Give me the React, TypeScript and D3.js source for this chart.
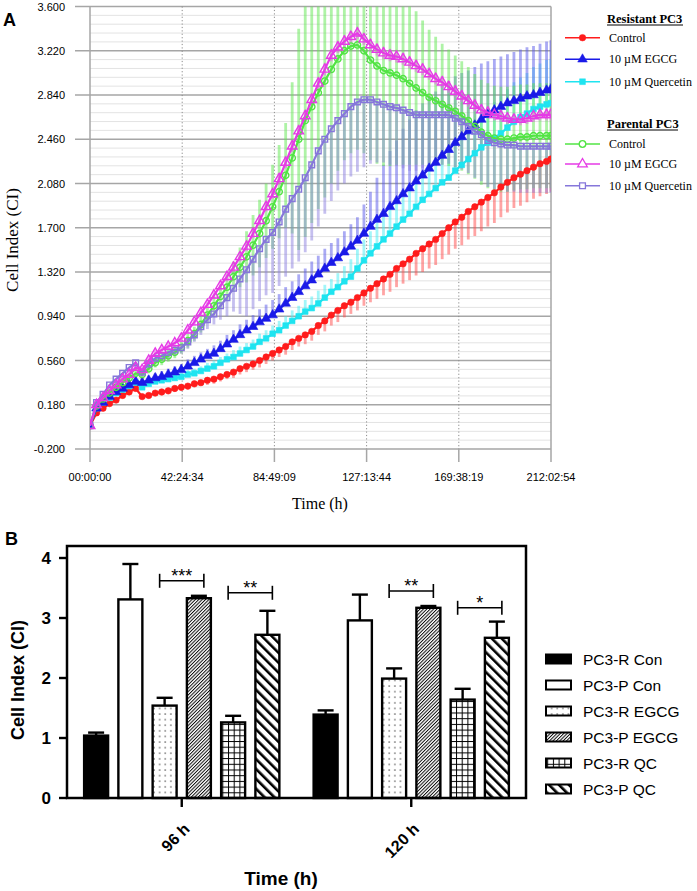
import React from "react";
import * as d3 from "d3";

// ---------------- Panel A data (hours, Cell Index) ----------------
const TIMES = [
  0, 3, 6, 9, 12, 15, 18, 21, 24, 27, 30, 33,
  36, 39, 42, 45, 48, 51, 54, 57, 60, 63, 66, 69,
  72, 75, 78, 81, 84, 87, 90, 93, 96, 99, 102, 105,
  108, 111, 114, 117, 120, 123, 126, 129, 132, 135, 138, 141,
  144, 147, 150, 153, 156, 159, 162, 165, 168, 171, 174, 177,
  180, 183, 186, 189, 192, 195, 198, 201, 204, 207, 210, 212,
];

const RES_CONTROL = [
  0.0, 0.11, 0.15, 0.19, 0.22, 0.26, 0.29, 0.32, 0.25, 0.26, 0.28, 0.29,
  0.3, 0.32, 0.33, 0.34, 0.36, 0.37, 0.39, 0.4, 0.42, 0.44, 0.46, 0.49,
  0.51, 0.53, 0.56, 0.59, 0.62, 0.65, 0.68, 0.72, 0.75, 0.78, 0.81, 0.86,
  0.9, 0.95, 0.99, 1.03, 1.06, 1.1, 1.14, 1.18, 1.22, 1.26, 1.3, 1.35,
  1.39, 1.43, 1.48, 1.52, 1.56, 1.6, 1.65, 1.7, 1.75, 1.79, 1.84, 1.88,
  1.92, 1.96, 2.0, 2.05, 2.09, 2.13, 2.16, 2.19, 2.22, 2.25, 2.27, 2.29,
];
const RES_CONTROL_SD = [
  0.0, 0.02, 0.02, 0.02, 0.02, 0.02, 0.02, 0.02, 0.02, 0.02, 0.02, 0.03,
  0.03, 0.03, 0.03, 0.03, 0.03, 0.03, 0.04, 0.04, 0.04, 0.04, 0.05, 0.05,
  0.05, 0.05, 0.06, 0.06, 0.06, 0.06, 0.07, 0.07, 0.07, 0.08, 0.08, 0.08,
  0.09, 0.09, 0.1, 0.1, 0.1, 0.11, 0.11, 0.12, 0.13, 0.14, 0.15, 0.16,
  0.17, 0.18, 0.19, 0.2, 0.21, 0.22, 0.22, 0.23, 0.23, 0.24, 0.24, 0.25,
  0.25, 0.25, 0.26, 0.26, 0.26, 0.26, 0.27, 0.27, 0.27, 0.28, 0.28, 0.28,
];

const RES_EGCG = [
  0.0, 0.15, 0.2, 0.25, 0.29, 0.32, 0.35, 0.38, 0.37, 0.39, 0.41, 0.42,
  0.44, 0.46, 0.48, 0.51, 0.54, 0.57, 0.6, 0.62, 0.66, 0.7, 0.74, 0.78,
  0.82, 0.85, 0.89, 0.92, 0.95, 1.0, 1.05, 1.1, 1.15, 1.2, 1.25, 1.3,
  1.35, 1.4, 1.44, 1.49, 1.54, 1.59, 1.65, 1.71, 1.77, 1.82, 1.88, 1.93,
  1.99, 2.04, 2.1, 2.15, 2.21, 2.26, 2.32, 2.37, 2.43, 2.48, 2.53, 2.58,
  2.63, 2.67, 2.71, 2.74, 2.77, 2.79, 2.81, 2.83, 2.84, 2.86, 2.88, 2.89,
];
const RES_EGCG_SD = [
  0.0, 0.03, 0.03, 0.03, 0.03, 0.03, 0.04, 0.04, 0.04, 0.04, 0.04, 0.05,
  0.05, 0.05, 0.05, 0.06, 0.06, 0.06, 0.06, 0.07, 0.07, 0.08, 0.08, 0.09,
  0.09, 0.1, 0.11, 0.12, 0.13, 0.13, 0.14, 0.14, 0.15, 0.15, 0.16, 0.16,
  0.17, 0.17, 0.17, 0.18, 0.19, 0.2, 0.25, 0.3, 0.36, 0.42, 0.48, 0.52,
  0.56, 0.59, 0.61, 0.62, 0.62, 0.61, 0.6, 0.59, 0.57, 0.55, 0.52, 0.5,
  0.48, 0.46, 0.44, 0.43, 0.42, 0.42, 0.42, 0.42, 0.42, 0.42, 0.42, 0.42,
];

const RES_QC = [
  0.0, 0.15, 0.2, 0.24, 0.28, 0.31, 0.34, 0.37, 0.33, 0.36, 0.38, 0.39,
  0.4, 0.41, 0.42, 0.44, 0.45, 0.47, 0.49, 0.51, 0.54, 0.57, 0.59, 0.62,
  0.65, 0.68, 0.72, 0.75, 0.79, 0.82, 0.86, 0.9, 0.94, 0.98, 1.01, 1.05,
  1.1, 1.15, 1.19, 1.24, 1.28, 1.35, 1.42, 1.48, 1.54, 1.6, 1.65, 1.71,
  1.77, 1.82, 1.88, 1.94, 1.99, 2.04, 2.09, 2.13, 2.19, 2.24, 2.29, 2.34,
  2.39, 2.43, 2.47, 2.51, 2.56, 2.61, 2.65, 2.68, 2.72, 2.74, 2.76, 2.77,
];
const RES_QC_SD = [
  0.0, 0.02, 0.02, 0.03, 0.03, 0.03, 0.03, 0.03, 0.03, 0.03, 0.03, 0.03,
  0.03, 0.03, 0.04, 0.04, 0.04, 0.04, 0.05, 0.05, 0.05, 0.05, 0.06, 0.06,
  0.06, 0.06, 0.07, 0.07, 0.07, 0.08, 0.08, 0.09, 0.09, 0.1, 0.1, 0.11,
  0.11, 0.11, 0.12, 0.13, 0.15, 0.17, 0.18, 0.19, 0.2, 0.21, 0.22, 0.22,
  0.23, 0.23, 0.24, 0.24, 0.25, 0.25, 0.26, 0.26, 0.27, 0.27, 0.28, 0.28,
  0.29, 0.3, 0.31, 0.32, 0.33, 0.34, 0.34, 0.35, 0.36, 0.37, 0.38, 0.38,
];

const PAR_CONTROL = [
  0.0, 0.17, 0.23, 0.28, 0.33, 0.37, 0.41, 0.45, 0.44, 0.49, 0.54, 0.57,
  0.6, 0.63, 0.67, 0.73, 0.79, 0.87, 0.95, 1.03, 1.11, 1.19, 1.28, 1.36,
  1.45, 1.55, 1.65, 1.76, 1.88, 2.01, 2.15, 2.3, 2.46, 2.62, 2.74, 2.86,
  2.96, 3.06, 3.15, 3.22, 3.26, 3.27, 3.22, 3.14, 3.09, 3.05, 3.03, 3.01,
  2.98, 2.94, 2.9, 2.86, 2.82, 2.79, 2.76, 2.73, 2.7, 2.66, 2.62, 2.57,
  2.52, 2.49, 2.47, 2.46, 2.46, 2.47, 2.48, 2.48, 2.49, 2.49, 2.49, 2.49,
];
const PAR_CONTROL_SD = [
  0.0, 0.03, 0.03, 0.03, 0.03, 0.04, 0.04, 0.04, 0.04, 0.04, 0.04, 0.05,
  0.05, 0.05, 0.05, 0.06, 0.06, 0.07, 0.07, 0.08, 0.1, 0.11, 0.13, 0.17,
  0.22, 0.26, 0.29, 0.32, 0.36, 0.4, 0.45, 0.65, 0.95, 1.0, 1.0, 1.0,
  1.0, 0.98, 0.96, 0.94, 0.92, 0.9, 0.88, 0.86, 0.84, 0.82, 0.8, 0.77,
  0.74, 0.7, 0.66, 0.62, 0.58, 0.55, 0.52, 0.5, 0.48, 0.47, 0.46, 0.45,
  0.45, 0.45, 0.45, 0.45, 0.45, 0.45, 0.45, 0.45, 0.45, 0.45, 0.45, 0.45,
];

const PAR_EGCG = [
  0.0, 0.18, 0.24, 0.3, 0.35, 0.4, 0.44, 0.5, 0.48, 0.56, 0.62, 0.65,
  0.68, 0.71, 0.75, 0.82, 0.89, 0.97, 1.04, 1.12, 1.2, 1.28, 1.36, 1.45,
  1.54, 1.65, 1.76, 1.88, 1.99, 2.12, 2.26, 2.4, 2.53, 2.66, 2.8, 2.94,
  3.06, 3.18, 3.25, 3.3, 3.34, 3.37, 3.32, 3.27, 3.23, 3.2, 3.18, 3.17,
  3.15, 3.12, 3.09, 3.06, 3.02, 2.98, 2.95, 2.91, 2.87, 2.83, 2.79, 2.75,
  2.71, 2.69, 2.67, 2.66, 2.64, 2.63, 2.63, 2.64, 2.66, 2.67, 2.67, 2.67,
];
const PAR_EGCG_SD = [
  0.0, 0.02, 0.02, 0.02, 0.02, 0.02, 0.03, 0.03, 0.03, 0.03, 0.03, 0.03,
  0.03, 0.03, 0.03, 0.03, 0.03, 0.03, 0.03, 0.03, 0.04, 0.04, 0.04, 0.04,
  0.04, 0.04, 0.04, 0.04, 0.04, 0.05, 0.05, 0.05, 0.05, 0.05, 0.05, 0.05,
  0.05, 0.05, 0.05, 0.05, 0.05, 0.05, 0.05, 0.05, 0.05, 0.05, 0.05, 0.05,
  0.05, 0.05, 0.05, 0.05, 0.05, 0.05, 0.05, 0.05, 0.05, 0.05, 0.05, 0.05,
  0.05, 0.05, 0.05, 0.05, 0.05, 0.05, 0.05, 0.05, 0.05, 0.05, 0.05, 0.05,
];

const PAR_QC = [
  0.0, 0.2, 0.27, 0.35, 0.4, 0.45, 0.5, 0.54, 0.46, 0.53, 0.58, 0.6,
  0.63, 0.65, 0.67, 0.72, 0.78, 0.85, 0.91, 0.96, 1.03, 1.1, 1.18, 1.26,
  1.34, 1.43, 1.52, 1.6, 1.66, 1.75, 1.86, 1.95, 2.03, 2.13, 2.24, 2.36,
  2.46, 2.55, 2.62, 2.68, 2.74, 2.78, 2.8, 2.8, 2.78, 2.76, 2.74, 2.73,
  2.71, 2.69, 2.67, 2.67, 2.67, 2.67, 2.67, 2.67, 2.64, 2.61, 2.57, 2.53,
  2.5, 2.45, 2.43, 2.42, 2.41, 2.41, 2.4, 2.4, 2.4, 2.4, 2.4, 2.4,
];
const PAR_QC_SD = [
  0.0, 0.03, 0.03, 0.03, 0.04, 0.04, 0.04, 0.04, 0.04, 0.04, 0.04, 0.04,
  0.05, 0.05, 0.05, 0.06, 0.06, 0.07, 0.08, 0.09, 0.12, 0.16, 0.2, 0.3,
  0.4, 0.43, 0.45, 0.48, 0.52, 0.55, 0.58, 0.6, 0.62, 0.64, 0.65, 0.65,
  0.64, 0.62, 0.6, 0.6, 0.6, 0.6, 0.58, 0.55, 0.52, 0.5, 0.5, 0.5,
  0.5, 0.5, 0.48, 0.46, 0.45, 0.44, 0.43, 0.42, 0.42, 0.41, 0.4, 0.4,
  0.4, 0.4, 0.4, 0.4, 0.4, 0.4, 0.4, 0.4, 0.4, 0.4, 0.4, 0.4,
];

const TIME_TICK_LABELS = ["00:00:00", "42:24:34", "84:49:09", "127:13:44", "169:38:19", "212:02:54"];
const TIME_TICK_HOURS = [0, 42.4094, 84.8192, 127.2289, 169.6386, 212.0483];
const CI_TICKS = [-0.2, 0.18, 0.56, 0.94, 1.32, 1.7, 2.08, 2.46, 2.84, 3.22, 3.6];
const LEGEND_GROUPS = ["Resistant PC3", "Parental PC3"];
const LEGEND_LABELS = ["Control", "10 \u00b5M EGCG", "10 \u00b5M Quercetin"];

// ---------------- Panel B data ----------------
const TIME_GROUPS = ["96 h", "120 h"];
const BAR_SERIES = ["PC3-R Con", "PC3-P Con", "PC3-R EGCG", "PC3-P EGCG", "PC3-R QC", "PC3-P QC"];
const BAR_MEAN_96 = [1.04, 3.31, 1.54, 3.33, 1.26, 2.72];
const BAR_SD_96 = [0.05, 0.59, 0.13, 0.04, 0.11, 0.4];
const BAR_MEAN_120 = [1.39, 2.96, 1.99, 3.17, 1.64, 2.67];
const BAR_SD_120 = [0.07, 0.43, 0.17, 0.03, 0.18, 0.27];
const CI_TICKS_B = [0, 1, 2, 3, 4];
const SIG_LABELS = ["***", "**", "**", "*"];
const SIG_GROUP = [0, 0, 1, 1];
const SIG_LEFT_BAR = [2, 4, 2, 4];
const SIG_LEVEL = [3.62, 3.42, 3.45, 3.17];

// ---------------- styles ----------------
const SERIES_A = [
  { v: RES_CONTROL, sd: RES_CONTROL_SD, color: "#ff1c1c", err: "#ff4a4a", shape: "circle", open: false, side: "down" },
  { v: RES_EGCG, sd: RES_EGCG_SD, color: "#1a1ae8", err: "#5656ea", shape: "triangle", open: false, side: "up" },
  { v: RES_QC, sd: RES_QC_SD, color: "#1fe4f0", err: "#45eef4", shape: "square", open: false, side: "up" },
  { v: PAR_CONTROL, sd: PAR_CONTROL_SD, color: "#52e444", err: "#5ee84e", shape: "circle", open: true, side: "both" },
  { v: PAR_EGCG, sd: PAR_EGCG_SD, color: "#e63ae6", err: "#ee60ee", shape: "triangle", open: true, side: "both" },
  { v: PAR_QC, sd: PAR_QC_SD, color: "#8677da", err: "#8c7fe0", shape: "square", open: true, side: "down" },
];
const ERR_ORDER = [0, 2, 1, 3, 5, 4];
const LINE_ORDER = [0, 2, 1, 3, 5, 4];

const SANS = "'Liberation Sans', Arial, Helvetica, sans-serif";
const NARROW = "'Liberation Sans Narrow', 'Liberation Sans', Arial, sans-serif";
const SERIF = "'Liberation Serif', 'Times New Roman', serif";

function symbolPath(shape: string, size: number) {
  const t = shape === "circle" ? d3.symbolCircle : shape === "triangle" ? d3.symbolTriangle : d3.symbolSquare;
  return d3.symbol().type(t).size(size)() as string;
}

function PanelA() {
  const x = d3.scaleLinear().domain([0, 212.0483]).range([90, 551]);
  const y = d3.scaleLinear().domain([-0.2, 3.6]).range([449, 6.5]);
  const minor: number[] = [];
  for (let i = 0; i < CI_TICKS.length - 1; i++) {
    for (let k = 1; k < 5; k++) minor.push(CI_TICKS[i] + ((CI_TICKS[i + 1] - CI_TICKS[i]) * k) / 5);
  }
  const line = (vals: number[]) =>
    d3.line<number>().x((_, i) => x(TIMES[i])).y((d) => y(d))(vals) as string;

  const legendRows = [
    { y: 37.7, s: 0 }, { y: 59.3, s: 1 }, { y: 81.7, s: 2 },
    { y: 144, s: 3 }, { y: 164, s: 4 }, { y: 185.7, s: 5 },
  ];
  return (
    <g>
      <defs>
        <clipPath id="clipA">
          <rect x={90} y={6.5} width={461} height={442.5} />
        </clipPath>
      </defs>
      <text x={3} y={26} fontFamily={SANS} fontWeight="bold" fontSize={18}>A</text>
      {minor.map((m, i) => (
        <line key={"mn" + i} x1={90} x2={551} y1={y(m)} y2={y(m)} stroke="#e3e3e3" strokeWidth={1} />
      ))}
      {CI_TICKS.map((t, i) => (
        <g key={"mj" + i}>
          <line x1={75} x2={551} y1={y(t)} y2={y(t)} stroke="#a6a6a6" strokeWidth={1.5} />
          <text x={65} y={y(t) + 4} textAnchor="end" fontFamily={SANS} fontSize={11}>{t.toFixed(3)}</text>
        </g>
      ))}
      {TIME_TICK_HOURS.map((h, i) => (
        <g key={"vt" + i}>
          {i > 0 && i < TIME_TICK_HOURS.length - 1 ? (
            <line x1={x(h)} x2={x(h)} y1={6.5} y2={449} stroke="#8c8c8c" strokeWidth={1} strokeDasharray="1.2,2.2" />
          ) : (
            <line x1={x(h)} x2={x(h)} y1={6.5} y2={449} stroke="#a6a6a6" strokeWidth={1.5} />
          )}
          <line x1={x(h)} x2={x(h)} y1={449} y2={462} stroke="#a6a6a6" strokeWidth={1.5} />
          <text x={x(h)} y={481} textAnchor="middle" fontFamily={SANS} fontSize={11}>{TIME_TICK_LABELS[i]}</text>
        </g>
      ))}
      <g clipPath="url(#clipA)">
        {ERR_ORDER.map((si) => {
          const s = SERIES_A[si];
          return (
            <g key={"err" + si} stroke={s.err} strokeOpacity={0.5} strokeWidth={2.8}>
              {s.v.map((v, i) => {
                const lo = s.side === "up" ? v : v - s.sd[i];
                const hi = s.side === "down" ? v : v + s.sd[i];
                return <line key={i} x1={x(TIMES[i])} x2={x(TIMES[i])} y1={y(lo)} y2={y(hi)} />;
              })}
            </g>
          );
        })}
        {LINE_ORDER.map((si) => {
          const s = SERIES_A[si];
          const p = symbolPath(s.shape, s.shape === "triangle" ? 40 : 32);
          return (
            <g key={"ln" + si}>
              <path d={line(s.v)} fill="none" stroke={s.color} strokeWidth={2.2} />
              {s.v.map((v, i) => (
                <path key={i} d={p} transform={`translate(${x(TIMES[i])},${y(v)})`}
                  fill={s.open ? "none" : s.color} stroke={s.color} strokeWidth={s.open ? 1.4 : 0.6} />
              ))}
            </g>
          );
        })}
      </g>
      <text transform="translate(18,240) rotate(-90)" textAnchor="middle" fontFamily={SERIF} fontSize={17}>Cell Index (CI)</text>
      <text x={320} y={509} textAnchor="middle" fontFamily={SERIF} fontSize={16}>Time (h)</text>
      {LEGEND_GROUPS.map((g, i) => (
        <g key={"lg" + i}>
          <text x={607} y={i === 0 ? 22.5 : 127.5} fontFamily={SERIF} fontWeight="bold" fontSize={12.5}>{g}</text>
          <line x1={607} x2={607 + (i === 0 ? 76 : 71)} y1={i === 0 ? 25 : 130} y2={i === 0 ? 25 : 130} stroke="#000" strokeWidth={1} />
        </g>
      ))}
      {legendRows.map((r, i) => {
        const s = SERIES_A[r.s];
        const p = symbolPath(s.shape, s.shape === "triangle" ? 40 : 34);
        return (
          <g key={"lr" + i}>
            <line x1={565} x2={600} y1={r.y} y2={r.y} stroke={s.color} strokeWidth={1.6} />
            <path d={p} transform={`translate(582.5,${r.y})`} fill={s.open ? "#fff" : s.color} stroke={s.color} strokeWidth={s.open ? 1.3 : 0.5} />
            <text x={609} y={r.y + 4} fontFamily={SERIF} fontSize={12}>{LEGEND_LABELS[i % 3]}</text>
          </g>
        );
      })}
    </g>
  );
}

const FILLS = ["#000", "#fff", "url(#patDots)", "url(#patFine)", "url(#patGrid)", "url(#patThick)"];

function PanelB() {
  const y = d3.scaleLinear().domain([0, 4.2]).range([798, 546]);
  const xg = d3.scaleBand<string>().domain(TIME_GROUPS).range([67, 526]);
  const xb = d3.scaleBand<string>().domain(BAR_SERIES).range([0, xg.step()]).paddingInner(0.3).paddingOuter(0.5);
  const bw = xb.bandwidth();
  const groupData = [
    { g: TIME_GROUPS[0], mean: BAR_MEAN_96, sd: BAR_SD_96 },
    { g: TIME_GROUPS[1], mean: BAR_MEAN_120, sd: BAR_SD_120 },
  ];
  const legendY = [659, 685, 711, 737, 763, 789];
  return (
    <g>
      <defs>
        <pattern id="patDots" patternUnits="userSpaceOnUse" width={5.6} height={5.6}>
          <rect width={5.6} height={5.6} fill="#fff" />
          <rect x={2.3} y={2.3} width={1.1} height={1.1} fill="#000" />
        </pattern>
        <pattern id="patFine" patternUnits="userSpaceOnUse" width={2.4} height={2.4} patternTransform="rotate(45)">
          <rect width={2.4} height={2.4} fill="#fff" />
          <line x1={0.5} y1={0} x2={0.5} y2={2.4} stroke="#000" strokeWidth={0.95} />
        </pattern>
        <pattern id="patGrid" patternUnits="userSpaceOnUse" width={5.7} height={5.7}>
          <rect width={5.7} height={5.7} fill="#fff" />
          <line x1={0} y1={0.5} x2={5.7} y2={0.5} stroke="#000" strokeWidth={1} />
          <line x1={0.5} y1={0} x2={0.5} y2={5.7} stroke="#000" strokeWidth={1} />
        </pattern>
        <pattern id="patThick" patternUnits="userSpaceOnUse" width={7} height={7} patternTransform="rotate(-45)">
          <rect width={7} height={7} fill="#fff" />
          <line x1={1.3} y1={0} x2={1.3} y2={7} stroke="#000" strokeWidth={2.6} />
        </pattern>
      </defs>
      <text x={5} y={545} fontFamily={SANS} fontWeight="bold" fontSize={18}>B</text>
      {groupData.map((gd) => {
        const x0 = xg(gd.g) as number;
        return (
          <g key={gd.g}>
            {BAR_SERIES.map((s, i) => {
              const bx = x0 + (xb(s) as number);
              const top = y(gd.mean[i]);
              const et = y(gd.mean[i] + gd.sd[i]);
              return (
                <g key={s}>
                  <line x1={bx + bw / 2} x2={bx + bw / 2} y1={top} y2={et} stroke="#000" strokeWidth={2.4} />
                  <line x1={bx + bw / 2 - 8} x2={bx + bw / 2 + 8} y1={et} y2={et} stroke="#000" strokeWidth={2.4} />
                  <rect x={bx} y={top} width={bw} height={y(0) - top} fill={FILLS[i]} stroke="#000" strokeWidth={2.4} />
                </g>
              );
            })}
          </g>
        );
      })}
      {SIG_LABELS.map((lab, k) => {
        const x0 = xg(TIME_GROUPS[SIG_GROUP[k]]) as number;
        const xl = x0 + (xb(BAR_SERIES[SIG_LEFT_BAR[k]]) as number) + 7;
        const xr = x0 + (xb(BAR_SERIES[SIG_LEFT_BAR[k] + 1]) as number) + bw - 7;
        const yy = y(SIG_LEVEL[k]);
        return (
          <g key={"sig" + k} stroke="#000" strokeWidth={1.6}>
            <line x1={xl} x2={xr} y1={yy} y2={yy} />
            <line x1={xl} x2={xl} y1={yy - 7} y2={yy + 7} />
            <line x1={xr} x2={xr} y1={yy - 7} y2={yy + 7} />
            <text x={(xl + xr) / 2} y={yy + 1} textAnchor="middle" stroke="none" fontFamily={SANS} fontSize={18}>{lab}</text>
          </g>
        );
      })}
      <rect x={67} y={546} width={459} height={252} fill="none" stroke="#000" strokeWidth={2.5} />
      {CI_TICKS_B.map((t) => (
        <g key={"bt" + t}>
          <line x1={59} x2={67} y1={y(t)} y2={y(t)} stroke="#000" strokeWidth={2.4} />
          <text x={51} y={y(t) + 6} textAnchor="end" fontFamily={NARROW} fontWeight="bold" fontSize={17}>{t}</text>
        </g>
      ))}
      {TIME_GROUPS.map((g) => {
        const cx = (xg(g) as number) + xg.bandwidth() / 2;
        return (
          <g key={"xt" + g}>
            <line x1={cx} x2={cx} y1={798} y2={807} stroke="#000" strokeWidth={2.4} />
            <text transform={`translate(${cx + 9},${830}) rotate(-45)`} textAnchor="end" fontFamily={NARROW} fontWeight="bold" fontSize={16}>{g}</text>
          </g>
        );
      })}
      <text transform="translate(24,680) rotate(-90)" textAnchor="middle" fontFamily={NARROW} fontWeight="bold" fontSize={18}>Cell Index (CI)</text>
      <text x={281} y={885} textAnchor="middle" fontFamily={NARROW} fontWeight="bold" fontSize={19}>Time (h)</text>
      {BAR_SERIES.map((s, i) => (
        <g key={"lgb" + s}>
          <rect x={546} y={legendY[i] - 4.5} width={25} height={9} fill={FILLS[i]} stroke="#000" strokeWidth={2} />
          <text x={583} y={legendY[i] + 5.5} fontFamily={SANS} fontSize={15.5}>{s}</text>
        </g>
      ))}
    </g>
  );
}

export default function App() {
  return (
    <svg width={697} height={891} viewBox="0 0 697 891" style={{ position: "absolute", left: 0, top: 0, background: "#fff" }}>
      <rect width={697} height={891} fill="#fff" />
      <PanelA />
      <PanelB />
    </svg>
  );
}
